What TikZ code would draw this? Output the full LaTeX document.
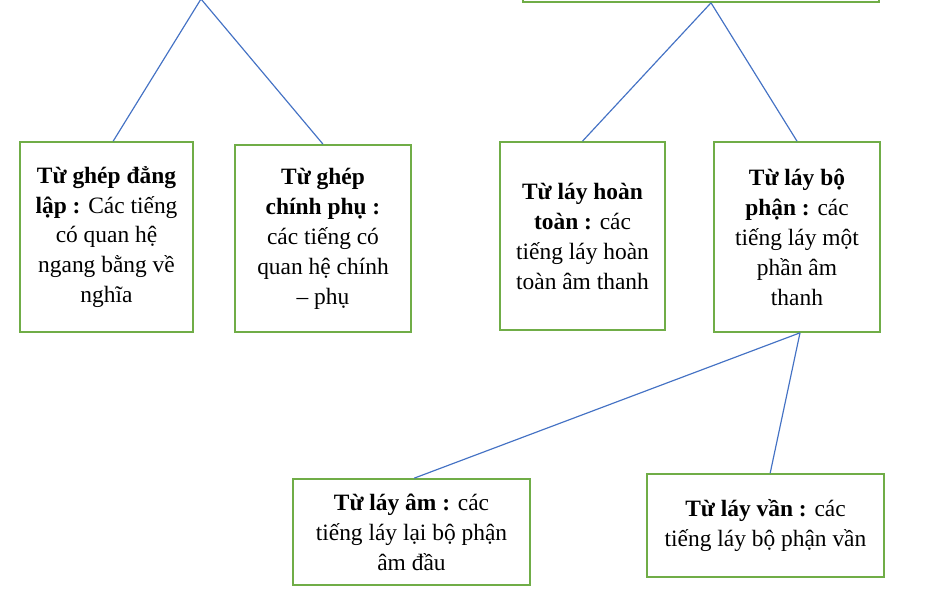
\documentclass[tikz,border=0pt]{standalone}
\usepackage{fontspec}
\setmainfont{Liberation Serif}
\usetikzlibrary{positioning}

\definecolor{boxgreen}{HTML}{70AD47}
\definecolor{lineblue}{HTML}{4472C4}

\begin{document}
\begin{tikzpicture}[x=0.03cm, y=-0.03cm,
		wbox/.style={rectangle, draw=boxgreen, line width=1.4pt, align=center, inner sep=0pt,
			font=\fontsize{20}{25.6}\selectfont},
		link/.style={draw=lineblue, line width=1pt}]
				\useasboundingbox (0,0) rectangle (942,612);
				% hidden parents at the top
				\coordinate (ghep) at (201,-1);
				\node[wbox, minimum width=10.68cm, minimum height=3.06cm] (lay) at (701,-49) {};
				% second row
				\node[wbox, minimum width=5.19cm, minimum height=5.7cm] (dl) at (106.5,237) {\textbf{Từ ghép đẳng}\\ \textbf{lập :} Các tiếng\\ có quan hệ\\ ngang bằng về\\ nghĩa};
				\node[wbox, minimum width=5.28cm, minimum height=5.61cm] (cp) at (323,238.5) {\textbf{Từ ghép}\\ \textbf{chính phụ :}\\ các tiếng có\\ quan hệ chính\\ – phụ};
				\node[wbox, minimum width=4.95cm, minimum height=5.64cm] (ht) at (582.5,236) {\textbf{Từ láy hoàn}\\ \textbf{toàn :} các\\ tiếng láy hoàn\\ toàn âm thanh};
				\node[wbox, minimum width=4.98cm, minimum height=5.7cm] (bp) at (797,237) {\textbf{Từ láy bộ}\\ \textbf{phận :} các\\ tiếng láy một\\ phần âm\\ thanh};
				% third row
				\node[wbox, minimum width=7.11cm, minimum height=3.18cm] (am) at (411.5,532) {\textbf{Từ láy âm :} các\\ tiếng láy lại bộ phận\\ âm đầu};
				\node[wbox, minimum width=7.11cm, minimum height=3.09cm] (van) at (765.5,525.5) {\textbf{Từ láy vần :} các\\ tiếng láy bộ phận vần};
				% connectors
				\draw[link] (ghep) -- ([xshift=0.2cm]dl.north);
				\draw[link] (ghep) -- (cp.north);
				\draw[link] ([xshift=0.3cm]lay.south) -- (ht.north);
				\draw[link] ([xshift=0.3cm]lay.south) -- (bp.north);
				\draw[link] ([xshift=0.09cm]bp.south) -- ([xshift=0.08cm]am.north);
				\draw[link] ([xshift=0.09cm]bp.south) -- ([xshift=0.14cm]van.north);
			\end{tikzpicture}
\end{document}
